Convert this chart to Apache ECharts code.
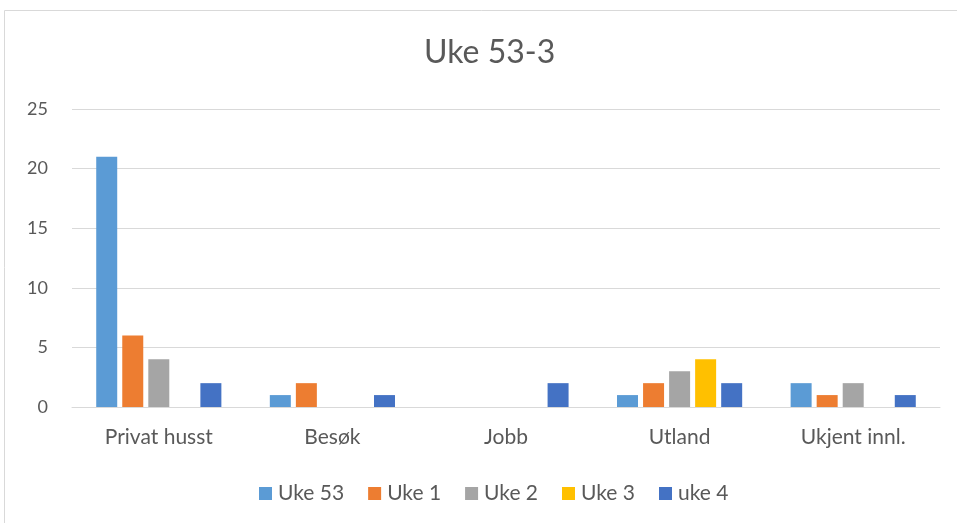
<!DOCTYPE html>
<html><head><meta charset="utf-8">
<script src="https://cdn.jsdelivr.net/npm/echarts@6/dist/echarts.min.js"></script>
<style>html,body{margin:0;padding:0;background:#fff}#c{width:957px;height:523px}</style>
</head><body><div id="c"></div>
<script>
const categories = ['Privat husst', 'Besøk', 'Jobb', 'Utland', 'Ukjent innl.'];
const seriesNames = ['Uke 53', 'Uke 1', 'Uke 2', 'Uke 3', 'uke 4'];
const uke53 = [21, 1, 0, 1, 2];
const uke1 = [6, 2, 0, 2, 1];
const uke2 = [4, 0, 0, 3, 2];
const uke3 = [0, 0, 0, 4, 0];
const uke4 = [2, 1, 2, 2, 1];
const colors = ['#5B9BD5', '#ED7D31', '#A5A5A5', '#FFC000', '#4472C4'];
const values = [uke53, uke1, uke2, uke3, uke4];
const font = 'Lato, "Open Sans", sans-serif';

const chart = echarts.init(document.getElementById('c'));
chart.setOption({
  animation: false,
  textStyle: { fontFamily: font },
  graphic: [{ type: 'rect', shape: { x: 4.5, y: 10.5, width: 1000, height: 600 }, style: { fill: 'none', stroke: '#D9D9D9', lineWidth: 1 } }],
  title: { text: 'Uke 53-3', left: 419, top: 32, textStyle: { fontFamily: font, fontSize: 32, fontWeight: 'normal', color: '#595959' } },
  legend: {
    top: 478, left: 254, itemWidth: 13, itemHeight: 13, itemGap: 24,
    icon: 'rect',
    textStyle: { fontFamily: font, fontSize: 21, color: '#595959', padding: [0, 0, 0, 1] },
    data: seriesNames
  },
  grid: { left: 72, right: 17, top: 109, bottom: 116, containLabel: false },
  xAxis: {
    type: 'category', data: categories,
    axisLine: { lineStyle: { color: '#D9D9D9' } },
    axisTick: { show: false },
    axisLabel: { fontFamily: font, fontSize: 21, color: '#595959', margin: 20 }
  },
  yAxis: {
    type: 'value', min: 0, max: 25, interval: 5,
    axisLine: { show: false }, axisTick: { show: false },
    splitLine: { lineStyle: { color: '#D9D9D9' } },
    axisLabel: { fontFamily: font, fontSize: 18, color: '#595959', margin: 24 }
  },
  series: seriesNames.map((n, i) => ({
    name: n, type: 'bar', data: values[i], barWidth: 21, barGap: '24%',
    itemStyle: { color: colors[i] }
  }))
});
</script></body></html>
